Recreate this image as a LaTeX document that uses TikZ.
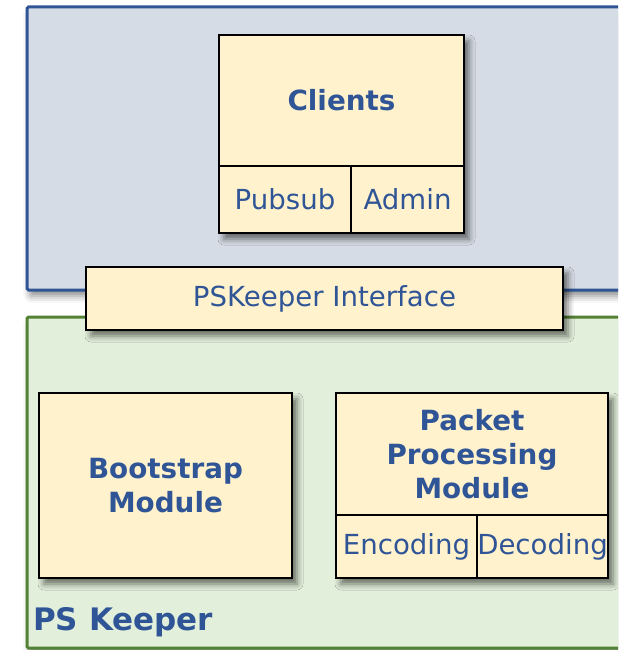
\documentclass[tikz,border=0pt]{standalone}
\usepackage{fontspec}
\setmainfont{DejaVu Sans}
\usetikzlibrary{shadows.blur,fit}

\definecolor{txtblue}{HTML}{2F5597}
\definecolor{boxfill}{HTML}{FFF2CC}
\definecolor{clientbg}{HTML}{D6DCE5}
\definecolor{clientedge}{HTML}{2F5597}
\definecolor{keeperbg}{HTML}{E2EFDA}
\definecolor{keeperedge}{HTML}{548235}

\tikzset{
  softshadow/.style={blur shadow={shadow xshift=5pt, shadow yshift=-6pt,
    shadow blur radius=6pt, shadow opacity=55}},
  area/.style={line width=3pt, rounded corners=1.5pt,
    blur shadow={shadow xshift=3pt, shadow yshift=-6pt, shadow blur radius=7pt, shadow opacity=45}},
  cell/.style={draw=black, line width=2.5pt, fill=boxfill, inner sep=0pt,
    text=txtblue, font=\fontsize{27.6}{34}\selectfont, align=center},
  title/.style={cell, font=\fontsize{27.8}{34}\selectfont\bfseries},
  groupshadow/.style={inner sep=0pt, fill=boxfill, softshadow},
  arealabel/.style={text=txtblue, font=\fontsize{31}{36}\selectfont\bfseries, inner sep=0pt},
}

\begin{document}
\begin{tikzpicture}[x=1pt, y=-1pt]
  \useasboundingbox (0,0) rectangle (618,650);
  \clip (0,0) rectangle (618,650);

  % client area and keeper area
  \path[area, draw=clientedge, fill=clientbg] (27,7) rectangle (640,290);
  \path[area, draw=keeperedge, fill=keeperbg] (27,317) rectangle (640,648);

  % Clients block
  \coordinate (cl-nw) at (219,35);
  \coordinate (cl-se) at (464,233);
  \node[groupshadow, fit=(cl-nw)(cl-se)] (clientgroup) {};
  \node[title, minimum width=245pt, minimum height=131pt] (clients) at (341.5,100.5) {Clients};
  \node[cell, minimum width=132pt, minimum height=67pt] (pubsub) at (285,199.5) {Pubsub};
  \node[cell, minimum width=113pt, minimum height=67pt] (admin) at (407.5,199.5) {Admin};

  % interface bar
  \node[cell, softshadow, minimum width=477pt, minimum height=63pt]
    (iface) at (324.5,298.5) {PSKeeper Interface};

  % Bootstrap module
  \node[title, softshadow, minimum width=253pt, minimum height=185pt]
    (bootstrap) at (165.5,485.5) {Bootstrap\\Module};

  % Packet processing module
  \coordinate (pp-nw) at (336,393);
  \coordinate (pp-se) at (608,578);
  \node[groupshadow, fit=(pp-nw)(pp-se)] (ppgroup) {};
  \node[title, minimum width=272pt, minimum height=122pt] (packet) at (472,454) {Packet\\Processing\\Module};
  \node[cell, minimum width=141pt, minimum height=63pt] (encoding) at (406.5,546.5) {Encoding};
  \node[cell, minimum width=131pt, minimum height=63pt] (decoding) at (542.5,546.5) {Decoding};

  \node[arealabel, anchor=base west] (keeper) at (33,630) {PS Keeper};
\end{tikzpicture}
\end{document}
